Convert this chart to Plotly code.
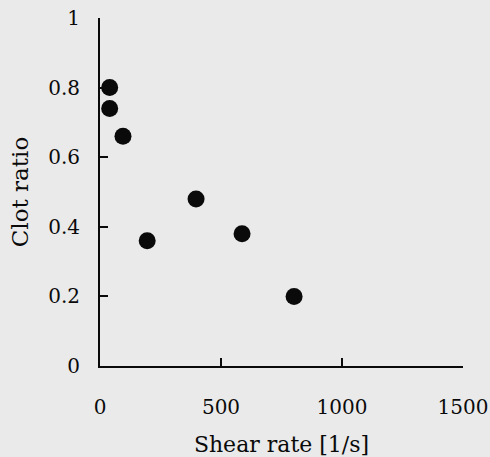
import plotly.graph_objects as go

shear_rate = [40, 40, 95, 195, 397, 587, 802]
clot_ratio = [0.80, 0.74, 0.66, 0.36, 0.48, 0.38, 0.20]
x_ticks = [0, 500, 1000, 1500]
y_ticks = [0, 0.2, 0.4, 0.6, 0.8, 1]
y_tick_text = ["0", "0.2", "0.4", "0.6", "0.8", "1"]

BG = "#eaeaea"
FONT = "DejaVu Serif"
INK = "#0a0a0a"

fig = go.Figure()
fig.add_trace(go.Scatter(
    x=shear_rate, y=clot_ratio, mode="markers",
    marker=dict(size=17, color=INK, line=dict(width=0)),
    cliponaxis=False, showlegend=False,
))

fig.update_layout(
    width=490, height=457,
    margin=dict(l=100, r=27, t=18, b=91, autoexpand=False),
    paper_bgcolor=BG, plot_bgcolor=BG,
    font=dict(family=FONT, size=20, color=INK),
)
fig.update_xaxes(
    range=[0, 1500], tickvals=x_ticks, ticktext=[str(v) for v in x_ticks],
    showgrid=False, zeroline=False, automargin=False,
    showline=True, linecolor=INK, linewidth=2,
    ticks="inside", ticklen=8, tickwidth=2, tickcolor=INK,
    ticklabelstandoff=22,
    title=dict(text="Shear rate [1/s]", font=dict(size=22), standoff=23),
)
fig.update_yaxes(
    range=[0, 1], tickvals=y_ticks, ticktext=y_tick_text,
    showgrid=False, zeroline=False, automargin=False,
    showline=True, linecolor=INK, linewidth=2,
    ticks="inside", ticklen=8, tickwidth=2, tickcolor=INK,
    ticklabelstandoff=14,
    title=dict(text="Clot ratio", font=dict(size=23), standoff=13),
)

fig.write_html(
    "out.html",
    config={"displayModeBar": False},
    post_script="document.body.style.margin='0';document.body.style.overflow='hidden';"
                "document.body.style.background='" + BG + "';",
)
